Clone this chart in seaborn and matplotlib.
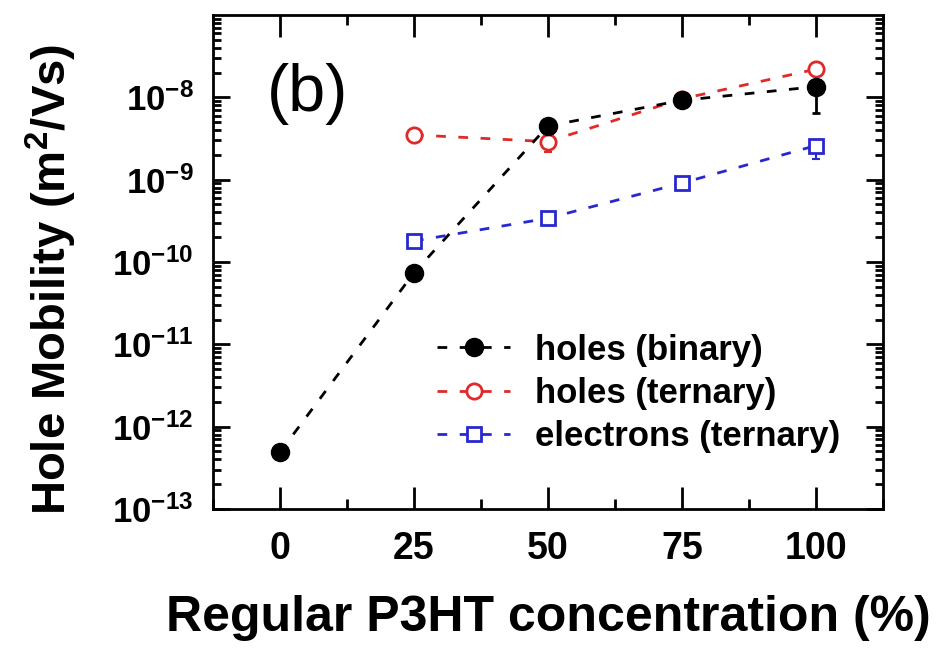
import matplotlib
matplotlib.use("Agg")
import matplotlib.pyplot as plt
import matplotlib.ticker as mticker
import numpy as np
import pandas as pd
import seaborn as sns

# P3HT regioregular fraction (%)
conc_binary = [0, 25, 50, 75, 100]
mu_holes_binary = [4.9e-13, 7.4e-11, 4.5e-9, 9.2e-9, 1.35e-8]

conc_ternary = [25, 50, 75, 100]
mu_holes_ternary = [3.5e-9, 2.9e-9, 9.6e-9, 2.2e-8]
mu_electrons_ternary = [1.8e-10, 3.4e-10, 9.1e-10, 2.6e-9]

# error-bar ranges (x, low, high)
err_holes_binary = [(100, 6.5e-9, 1.5e-8)]
err_holes_ternary = [(50, 2.2e-9, 3.0e-9)]
err_electrons_ternary = [(100, 1.8e-9, 2.7e-9)]

series_labels = ["holes (binary)", "holes (ternary)", "electrons (ternary)"]
ytick_values = [1e-13, 1e-12, 1e-11, 1e-10, 1e-9, 1e-8]
ytick_labels = [r"$\mathbf{10^{-13}}$", r"$\mathbf{10^{-12}}$", r"$\mathbf{10^{-11}}$",
                r"$\mathbf{10^{-10}}$", r"$\mathbf{10^{-9}}$", r"$\mathbf{10^{-8}}$"]
xtick_values = [0, 25, 50, 75, 100]

sns.set_style("ticks")
FONT = ["Liberation Sans", "DejaVu Sans"]
plt.rcParams["font.family"] = FONT
plt.rcParams["font.weight"] = "bold"
plt.rcParams["text.color"] = "black"
plt.rcParams["axes.labelcolor"] = "black"
plt.rcParams["xtick.color"] = "black"
plt.rcParams["ytick.color"] = "black"
plt.rcParams["mathtext.fontset"] = "custom"
plt.rcParams["mathtext.rm"] = "Liberation Sans:bold"
plt.rcParams["mathtext.bf"] = "Liberation Sans:bold"
plt.rcParams["mathtext.it"] = "Liberation Sans:bold"

fig = plt.figure(figsize=(9.52, 6.54), dpi=100)
ax = fig.add_axes([0.2237, 0.2217, 0.7038, 0.7553])

dash = (0, (3.5, 4.5))
RED = "#e02a2a"
BLUE = "#2828d0"

df_b = pd.DataFrame({"conc": conc_binary, "mu": mu_holes_binary})
df_t = pd.DataFrame({"conc": conc_ternary, "holes": mu_holes_ternary,
                     "electrons": mu_electrons_ternary})

for x, lo, hi in err_holes_binary:
    y = mu_holes_binary[conc_binary.index(x)]
    ax.errorbar([x], [y], yerr=[[y - lo], [hi - y]], fmt="none", ecolor="black",
                elinewidth=2, capsize=3, capthick=2, zorder=2)
for x, lo, hi in err_holes_ternary:
    y = mu_holes_ternary[conc_ternary.index(x)]
    ax.errorbar([x], [y], yerr=[[y - lo], [hi - y]], fmt="none", ecolor=RED,
                elinewidth=1.5, capsize=3, capthick=1.5, zorder=2)
for x, lo, hi in err_electrons_ternary:
    y = mu_electrons_ternary[conc_ternary.index(x)]
    ax.errorbar([x], [y], yerr=[[y - lo], [hi - y]], fmt="none", ecolor=BLUE,
                elinewidth=1.5, capsize=3, capthick=1.5, zorder=2)

sns.lineplot(data=df_b, x="conc", y="mu", ax=ax, color="black", linestyle=dash,
             linewidth=2, marker="o", markersize=13, markerfacecolor="black",
             markeredgecolor="black", markeredgewidth=1, label=series_labels[0], zorder=4)
sns.lineplot(data=df_t, x="conc", y="holes", ax=ax, color=RED, linestyle=dash,
             linewidth=2, marker="o", markersize=11, markerfacecolor="white",
             markeredgecolor=RED, markeredgewidth=2, label=series_labels[1], zorder=3)
sns.lineplot(data=df_t, x="conc", y="electrons", ax=ax, color=BLUE, linestyle=dash,
             linewidth=2, marker="s", markersize=10, markerfacecolor="white",
             markeredgecolor=BLUE, markeredgewidth=2, label=series_labels[2], zorder=3)

ax.set_yscale("log")
ax.set_ylim(1e-13, 1e-7)
ax.set_xlim(-12.5, 112.5)
ax.set_yticks(ytick_values)
ax.set_yticklabels(ytick_labels)
ax.yaxis.set_minor_locator(mticker.LogLocator(base=10, subs=np.arange(2, 10)))
ax.yaxis.set_minor_formatter(mticker.NullFormatter())
ax.set_xticks(xtick_values)
ax.set_xticklabels([str(v) for v in xtick_values])
ax.xaxis.set_minor_locator(mticker.MultipleLocator(12.5))

ax.tick_params(axis="both", which="both", direction="in", top=True, right=True,
               width=2, colors="black")
ax.tick_params(axis="x", which="major", length=16, pad=16, labelsize=27)
ax.tick_params(axis="x", which="minor", length=7)
ax.tick_params(axis="y", which="major", length=12, pad=14, labelsize=25)
ax.tick_params(axis="y", which="minor", length=6)
for s in ax.spines.values():
    s.set_linewidth(2)
    s.set_color("black")

ax.set_xlabel("Regular P3HT concentration (%)", fontsize=36, fontweight="bold",
              labelpad=20, color="black")
ax.set_ylabel("Hole Mobility (m$^{2}$/Vs)", fontsize=34, fontweight="bold", color="black")
ax.yaxis.set_label_coords(-0.20, 0.465)

ax.text(0.08, 0.84, "(b)", transform=ax.transAxes, fontsize=48, fontweight="normal",
        color="black", va="center", ha="left")

leg = ax.legend(loc="upper left", bbox_to_anchor=(0.335, 0.355), frameon=False,
                fontsize=25, handlelength=2.1, handletextpad=0.7, labelspacing=0.3,
                borderpad=0, borderaxespad=0, numpoints=1)
for t in leg.get_texts():
    t.set_color("black")

fig.savefig("out.png", dpi=100)
